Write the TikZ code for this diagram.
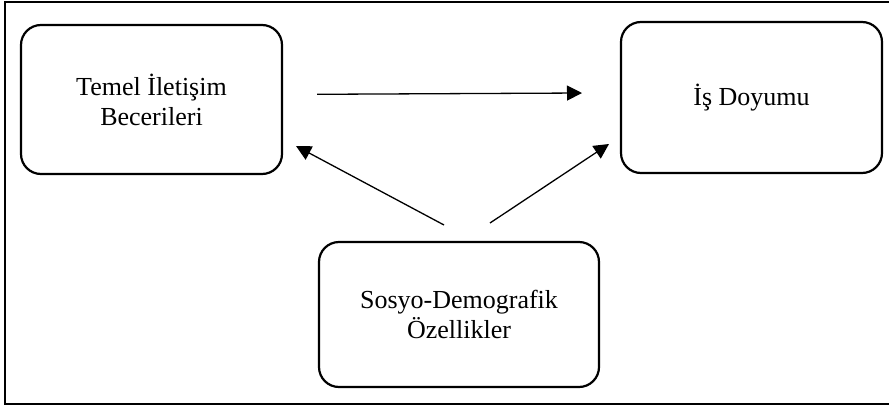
\documentclass[tikz,border=0pt]{standalone}
\usepackage{fontspec}
\setmainfont{Liberation Serif}
\usetikzlibrary{arrows.meta}
\begin{document}
\begin{tikzpicture}[x=1pt,y=-1pt,
  box/.style={draw,line width=2.2pt,rounded corners=20pt,inner sep=0pt,align=center,
    font=\fontsize{26}{30}\selectfont},
  conn/.style={line width=1.3pt,-{Triangle[length=15pt,width=15pt]}}]
\useasboundingbox (0,0) rectangle (889,407);
\clip (0,0) rectangle (889,407);
\draw[line width=1.4pt] (5,2) rectangle (895,404);
\node[box,minimum width=261pt,minimum height=149pt] (teb) at (151.5,99.5) {Temel İletişim\\Becerileri};
\node[box,minimum width=261pt,minimum height=151pt] (id) at (751.5,97.5) {İş Doyumu};
\node[box,minimum width=280pt,minimum height=145pt] (sd) at (459,314.5) {Sosyo-Demografik\\Özellikler};
\coordinate (h1) at (317,94.3);
\coordinate (h2) at (582,93);
\coordinate (l1) at (444,225);
\coordinate (l2) at (296,146);
\coordinate (r1) at (490,223);
\coordinate (r2) at (609,144);
\draw[conn] (h1) -- (h2);
\draw[conn] (l1) -- (l2);
\draw[conn] (r1) -- (r2);
\end{tikzpicture}
\end{document}
